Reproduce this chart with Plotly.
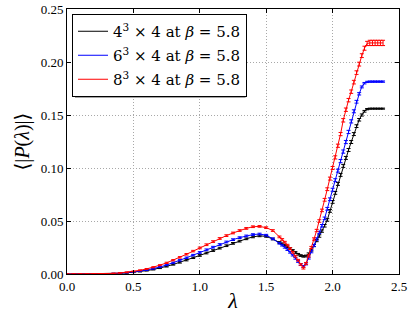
import plotly.graph_objects as go

# lambda grid (coarse part then fine part)
lam = [0.00, 0.05, 0.10, 0.15, 0.20, 0.25, 0.30, 0.35, 0.40, 0.45, 0.50, 0.55, 0.60, 0.65, 0.70, 0.75,
       0.80, 0.85, 0.90, 0.95, 1.00, 1.05, 1.10, 1.15, 1.20, 1.25, 1.30, 1.35, 1.40, 1.45, 1.50, 1.55,
       1.60, 1.62, 1.64, 1.66, 1.68, 1.70, 1.72, 1.74, 1.76, 1.78, 1.80, 1.82, 1.84, 1.86, 1.88, 1.90,
       1.92, 1.94, 1.96, 1.98, 2.00, 2.02, 2.04, 2.06, 2.08, 2.10, 2.12, 2.14, 2.16, 2.18, 2.20, 2.22,
       2.24, 2.26, 2.28, 2.30, 2.32, 2.34, 2.36, 2.38]

p4 = [0.0000, 0.0000, 0.0000, 0.0000, 0.0001, 0.0001, 0.0002, 0.0004, 0.0007, 0.0011, 0.0016, 0.0023,
      0.0032, 0.0043, 0.0056, 0.0072, 0.0090, 0.0110, 0.0131, 0.0153, 0.0175, 0.0198, 0.0221, 0.0244,
      0.0267, 0.0289, 0.0310, 0.0332, 0.0350, 0.0360, 0.0355, 0.0330,
      0.0297, 0.0285, 0.0272, 0.0257, 0.0240, 0.0222, 0.0203, 0.0186, 0.0174, 0.0167, 0.0170, 0.0190,
      0.0225, 0.0268, 0.0315, 0.0358, 0.0405, 0.0455, 0.0510, 0.0595, 0.0680, 0.0765, 0.0850, 0.0935,
      0.1020, 0.1095, 0.1170, 0.1245, 0.1320, 0.1395, 0.1455, 0.1500, 0.1535, 0.1555, 0.1560, 0.1560,
      0.1560, 0.1560, 0.1560, 0.1560]
e4 = [0.0000, 0.0000, 0.0000, 0.0000, 0.0001, 0.0001, 0.0001, 0.0002, 0.0002, 0.0003, 0.0003, 0.0004,
      0.0004, 0.0005, 0.0005, 0.0006, 0.0006, 0.0007, 0.0007, 0.0007, 0.0008, 0.0008, 0.0008, 0.0008,
      0.0008, 0.0008, 0.0008, 0.0008, 0.0008, 0.0008, 0.0008, 0.0008,
      0.0008, 0.0008, 0.0008, 0.0008, 0.0008, 0.0008, 0.0008, 0.0008, 0.0008, 0.0008, 0.0008, 0.0009,
      0.0009, 0.0010, 0.0010, 0.0011, 0.0011, 0.0012, 0.0012, 0.0013, 0.0013, 0.0013, 0.0014, 0.0014,
      0.0014, 0.0014, 0.0014, 0.0014, 0.0014, 0.0013, 0.0012, 0.0010, 0.0008, 0.0006, 0.0005, 0.0005,
      0.0005, 0.0005, 0.0005, 0.0005]

p6 = [0.0000, 0.0000, 0.0000, 0.0000, 0.0001, 0.0002, 0.0003, 0.0005, 0.0008, 0.0013, 0.0019, 0.0028,
      0.0038, 0.0051, 0.0066, 0.0085, 0.0106, 0.0129, 0.0153, 0.0178, 0.0203, 0.0228, 0.0253, 0.0278,
      0.0302, 0.0324, 0.0343, 0.0359, 0.0372, 0.0377, 0.0366, 0.0332,
      0.0290, 0.0272, 0.0252, 0.0230, 0.0205, 0.0178, 0.0148, 0.0118, 0.0090, 0.0072, 0.0095, 0.0150,
      0.0210, 0.0270, 0.0330, 0.0392, 0.0455, 0.0525, 0.0615, 0.0705, 0.0795, 0.0885, 0.0975, 0.1065,
      0.1155, 0.1245, 0.1340, 0.1440, 0.1535, 0.1625, 0.1700, 0.1765, 0.1800, 0.1812, 0.1815, 0.1815,
      0.1815, 0.1815, 0.1815, 0.1815]
e6 = [0.0000, 0.0000, 0.0000, 0.0000, 0.0001, 0.0001, 0.0001, 0.0002, 0.0002, 0.0003, 0.0003, 0.0004,
      0.0004, 0.0005, 0.0005, 0.0006, 0.0006, 0.0007, 0.0007, 0.0007, 0.0008, 0.0008, 0.0008, 0.0008,
      0.0008, 0.0008, 0.0008, 0.0008, 0.0008, 0.0008, 0.0008, 0.0008,
      0.0008, 0.0008, 0.0008, 0.0008, 0.0008, 0.0008, 0.0008, 0.0008, 0.0008, 0.0008, 0.0009, 0.0009,
      0.0010, 0.0010, 0.0011, 0.0011, 0.0012, 0.0012, 0.0013, 0.0013, 0.0014, 0.0014, 0.0014, 0.0015,
      0.0015, 0.0015, 0.0015, 0.0015, 0.0014, 0.0013, 0.0011, 0.0009, 0.0007, 0.0006, 0.0006, 0.0006,
      0.0006, 0.0006, 0.0006, 0.0006]

p8 = [0.0000, 0.0000, 0.0000, 0.0000, 0.0001, 0.0002, 0.0003, 0.0006, 0.0010, 0.0016, 0.0024, 0.0035,
      0.0048, 0.0064, 0.0083, 0.0105, 0.0130, 0.0157, 0.0186, 0.0216, 0.0246, 0.0276, 0.0306, 0.0335,
      0.0362, 0.0387, 0.0410, 0.0430, 0.0446, 0.0449, 0.0437, 0.0410,
      0.0350, 0.0326, 0.0300, 0.0272, 0.0240, 0.0205, 0.0168, 0.0130, 0.0090, 0.0055, 0.0100, 0.0170,
      0.0250, 0.0330, 0.0410, 0.0500, 0.0600, 0.0700, 0.0800, 0.0900, 0.1000, 0.1100, 0.1210, 0.1320,
      0.1450, 0.1550, 0.1640, 0.1720, 0.1810, 0.1900, 0.1980, 0.2060, 0.2130, 0.2175, 0.2180, 0.2180,
      0.2180, 0.2180, 0.2180, 0.2180]
e8 = [0.0000, 0.0000, 0.0000, 0.0000, 0.0001, 0.0001, 0.0001, 0.0002, 0.0002, 0.0003, 0.0003, 0.0004,
      0.0004, 0.0005, 0.0005, 0.0006, 0.0006, 0.0007, 0.0007, 0.0007, 0.0008, 0.0008, 0.0008, 0.0008,
      0.0008, 0.0008, 0.0008, 0.0008, 0.0008, 0.0008, 0.0008, 0.0008,
      0.0008, 0.0008, 0.0008, 0.0008, 0.0008, 0.0008, 0.0008, 0.0008, 0.0008, 0.0008, 0.0009, 0.0010,
      0.0010, 0.0011, 0.0011, 0.0012, 0.0012, 0.0013, 0.0013, 0.0014, 0.0014, 0.0015, 0.0015, 0.0015,
      0.0016, 0.0016, 0.0016, 0.0016, 0.0017, 0.0017, 0.0018, 0.0018, 0.0019, 0.0020, 0.0025, 0.0025,
      0.0025, 0.0025, 0.0025, 0.0025]

labels = ["4<sup>3</sup> × 4 at <i>β</i> = 5.8",
          "6<sup>3</sup> × 4 at <i>β</i> = 5.8",
          "8<sup>3</sup> × 4 at <i>β</i> = 5.8"]
colors = ["#000000", "#0000ff", "#ff0000"]

xticks = [0.0, 0.5, 1.0, 1.5, 2.0, 2.5]
yticks = [0.00, 0.05, 0.10, 0.15, 0.20, 0.25]

SERIF = "Liberation Serif, DejaVu Serif, serif"
LEGSERIF = "DejaVu Serif, Liberation Serif, serif"

fig = go.Figure()
for i, (y, e, lab, c) in enumerate(zip([p4, p6, p8], [e4, e6, e8], labels, colors)):
    fig.add_trace(go.Scatter(
        x=lam, y=y, name=lab, mode="lines", legendgroup=f"g{i}",
        line=dict(color=c, width=1),
        error_y=dict(type="data", array=e, visible=True, color=c, thickness=1, width=2),
    ))

axis_common = dict(
    showline=True, linecolor="black", linewidth=1, mirror="ticks",
    ticks="inside", ticklen=4, tickcolor="black", tickwidth=1,
    showgrid=True, gridcolor="#a8a8a8", gridwidth=1, griddash="1px,2px",
    zeroline=False, automargin=False,
    tickfont=dict(family=SERIF, size=13, color="black"),
)

fig.update_xaxes(range=[0, 2.5], tickvals=xticks, ticktext=[f"{v:.1f}" for v in xticks],
                 title=dict(text="<i>λ</i>", font=dict(family=SERIF, size=22, color="black"), standoff=2),
                 **axis_common)
fig.update_yaxes(range=[0, 0.25], tickvals=yticks, ticktext=[f"{v:.2f}" for v in yticks],
                 title=dict(text="⟨|<i>P</i>(<i>λ</i>)|⟩", font=dict(family=SERIF, size=20, color="black"),
                            standoff=5),
                 **axis_common)

# legend shadow
fig.add_shape(type="rect", xref="paper", yref="paper",
              x0=(75 - 67) / 332, x1=(245.5 - 67) / 332,
              y0=1 - (97.5 - 9) / 265, y1=1 - (17 - 9) / 265,
              fillcolor="#4d4d4d", line=dict(width=0), layer="above")

fig.update_layout(
    width=415, height=313,
    margin=dict(l=67, r=16, t=9, b=39, autoexpand=False),
    plot_bgcolor="white", paper_bgcolor="white",
    font=dict(family=SERIF, color="black"),
    showlegend=True,
    legend=dict(x=(72 - 67) / 332, y=1 - (14 - 9) / 265, xanchor="left", yanchor="top",
                bgcolor="white", bordercolor="black", borderwidth=1,
                font=dict(family=LEGSERIF, size=15, color="black"),
                itemwidth=30, tracegroupgap=1.5),
)

fig.write_html("out.html", config={"displayModeBar": False},
               post_script="document.body.style.margin='0';document.body.style.padding='0';")
